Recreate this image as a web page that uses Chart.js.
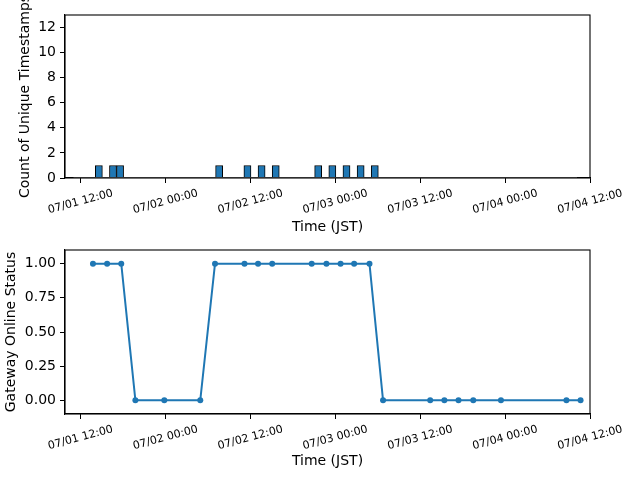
<!DOCTYPE html>
<html>
<head>
<meta charset="utf-8">
<script src="https://cdn.jsdelivr.net/npm/chart.js@4/dist/chart.umd.min.js"></script>
<style>
  body { margin: 0; background: #fff; }
  .box { position: absolute; left: 0; width: 640px; height: 240px; }
  #top { top: 0; }
  #bottom { top: 240px; }
</style>
</head>
<body>
<div class="box" id="top"><canvas id="countChart" width="640" height="240"></canvas></div>
<div class="box" id="bottom"><canvas id="statusChart" width="640" height="240"></canvas></div>
<script>
// hourly bins with at least one timestamp (bin start, JST)
const binStarts = ['07/01 14:05', '07/01 16:05', '07/01 17:05', '07/02 07:05', '07/02 11:05', '07/02 13:05',
    '07/02 15:05', '07/02 21:05', '07/02 23:05', '07/03 01:05', '07/03 03:05', '07/03 05:05'];
const binCounts = [1, 1, 1, 1, 1, 1, 1, 1, 1, 1, 1, 1];
// empty bins drawn as a flat line
const emptyBinRange = ['07/01 11:00', '07/04 10:10'];

// gateway status samples
const statusTimes = ['07/01 13:45', '07/01 15:45', '07/01 17:45', '07/01 19:45', '07/01 23:50', '07/02 04:55',
    '07/02 07:00', '07/02 11:10', '07/02 13:05', '07/02 15:05', '07/02 20:40', '07/02 22:45',
    '07/03 00:45', '07/03 02:40', '07/03 04:50', '07/03 06:45', '07/03 13:25', '07/03 15:25',
    '07/03 17:25', '07/03 19:30', '07/03 23:25', '07/04 08:40', '07/04 10:40'];
const statusValues = [1, 1, 1, 0, 0, 0, 1, 1, 1, 1, 1, 1, 1, 1, 1, 0, 0, 0, 0, 0, 0, 0, 0];

const xTickLabels = ['07/01 12:00', '07/02 00:00', '07/02 12:00', '07/03 00:00', '07/03 12:00', '07/04 00:00', '07/04 12:00'];
const countTicks = [0, 2, 4, 6, 8, 10, 12];
const statusTicks = [0, 0.25, 0.5, 0.75, 1];

// "07/02 13:05" -> hours since 07/01 00:00
function toHours(s) {
    const [date, time] = s.split(' ');
    const day = parseInt(date.split('/')[1]);
    const [h, m] = time.split(':').map(Number);
    return (day - 1) * 24 + h + m / 60;
}

const xMin = 9.8;
const xMax = toHours(xTickLabels[xTickLabels.length - 1]);
const blue = '#1f77b4';
const font = 'DejaVu Sans';

// box around the plot + tick labels rotated 15 deg, centred on the tick like matplotlib
const frameAndLabels = {
    id: 'frameAndLabels',
    afterDraw(chart) {
        const { ctx, chartArea: a, scales: { x } } = chart;
        ctx.save();
        ctx.strokeStyle = '#000';
        ctx.lineWidth = 1.1;
        ctx.strokeRect(a.left, a.top, a.right - a.left, a.bottom - a.top);
        ctx.font = '11px "' + font + '"';
        ctx.fillStyle = '#000';
        const ang = 15 * Math.PI / 180;
        x.ticks.forEach((t, i) => {
            const txt = xTickLabels[i];
            const w = ctx.measureText(txt).width;
            const H = w * Math.sin(ang) + 11 * Math.cos(ang);
            const px = x.getPixelForValue(t.value);
            const cy = a.bottom + 4.9 + 4.9 + H / 2;
            ctx.save();
            ctx.translate(px, cy);
            ctx.rotate(-ang);
            ctx.textAlign = 'center';
            ctx.textBaseline = 'middle';
            ctx.fillText(txt, 0, 0);
            ctx.restore();
        });
        ctx.restore();
    }
};

function xAxis(height, titlePad) {
    return {
        type: 'linear',
        min: xMin,
        max: xMax,
        offset: false,
        afterBuildTicks: s => { s.ticks = xTickLabels.map(l => ({ value: toHours(l) })); },
        afterFit: s => { s.height = height; },
        ticks: { display: false },
        grid: { display: true, drawOnChartArea: false, drawTicks: true, tickLength: 5, color: '#000', lineWidth: 1, offset: false },
        border: { color: '#000', width: 1.1 },
        title: { display: true, text: 'Time (JST)', color: '#000', font: { family: font, size: 14 }, padding: { top: 0, bottom: titlePad } }
    };
}

function yAxis(min, max, tickVals, fmt, title, titlePad) {
    return {
        type: 'linear',
        min: min,
        max: max,
        afterBuildTicks: s => { s.ticks = tickVals.map(v => ({ value: v })); },
        afterFit: s => { s.width = 65; s.paddingTop = 0; s.paddingBottom = 0; },
        ticks: { color: '#000', padding: 4, font: { family: font, size: 14 }, callback: fmt },
        grid: { display: true, drawOnChartArea: false, drawTicks: true, tickLength: 5, color: '#000', lineWidth: 1 },
        border: { color: '#000', width: 1.1 },
        title: { display: true, text: title, color: '#000', font: { family: font, size: 14 }, padding: { top: titlePad, bottom: 0 } }
    };
}

new Chart(document.getElementById('countChart'), {
    type: 'bar',
    data: {
        datasets: [{
            type: 'line',
            data: emptyBinRange.map(t => ({ x: toHours(t), y: 0 })),
            borderColor: '#8a8a8a',
            borderWidth: 1.5,
            pointRadius: 0
        }, {
            data: binStarts.map((t, i) => ({ x: toHours(t) + 0.5, y: binCounts[i] })),
            backgroundColor: blue,
            borderColor: '#000',
            borderWidth: 1,
            categoryPercentage: 1,
            barPercentage: 1
        }]
    },
    options: {
        responsive: false,
        animation: false,
        layout: { padding: { left: 0, top: 15, right: 50, bottom: 0 } },
        plugins: { legend: { display: false }, tooltip: { enabled: false } },
        scales: {
            x: xAxis(62, 4.6),
            y: yAxis(0, 13, countTicks, v => String(v), 'Count of Unique Timestamps', 16.5)
        }
    },
    plugins: [frameAndLabels]
});

new Chart(document.getElementById('statusChart'), {
    type: 'line',
    data: {
        datasets: [{
            data: statusTimes.map((t, i) => ({ x: toHours(t), y: statusValues[i] })),
            borderColor: blue,
            backgroundColor: blue,
            borderWidth: 2,
            pointRadius: 3,
            pointBorderWidth: 0,
            tension: 0
        }]
    },
    options: {
        responsive: false,
        animation: false,
        layout: { padding: { left: 0, top: 10, right: 50, bottom: 0 } },
        plugins: { legend: { display: false }, tooltip: { enabled: false } },
        scales: {
            x: xAxis(66, 10.6),
            y: yAxis(-0.1, 1.1, statusTicks, v => v.toFixed(2), 'Gateway Online Status', 2.6)
        }
    },
    plugins: [frameAndLabels]
});
</script>
</body>
</html>
